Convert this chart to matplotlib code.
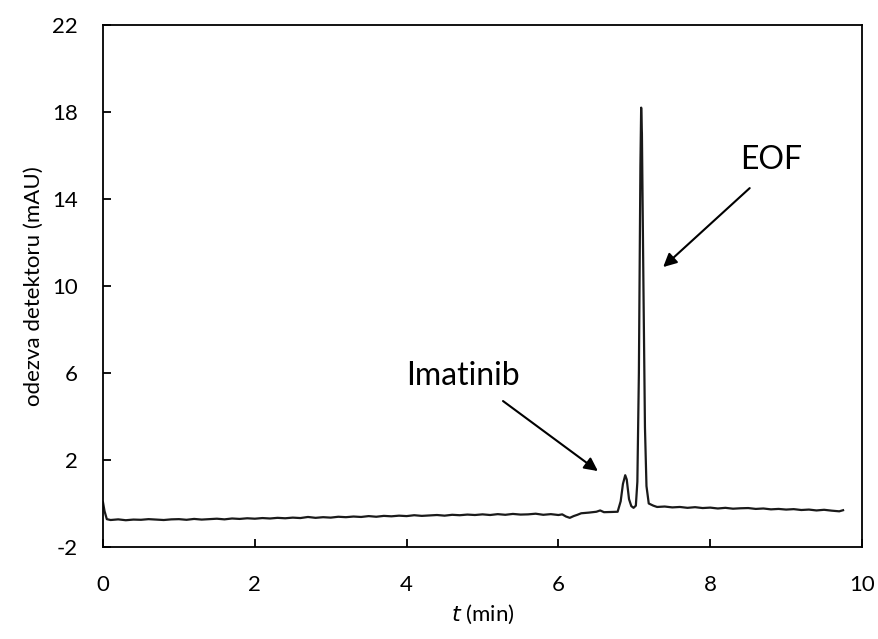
import matplotlib.pyplot as plt

plt.rcParams['font.family'] = ['Lato', 'DejaVu Sans']
plt.rcParams['axes.unicode_minus'] = False

# electropherogram (t in min, signal in mAU)
t = [0.00, 0.02, 0.05, 0.10, 0.20, 0.30, 0.40, 0.50, 0.60, 0.70, 0.80, 0.90,
     1.00, 1.10, 1.20, 1.30, 1.40, 1.50, 1.60, 1.70, 1.80, 1.90, 2.00, 2.10,
     2.20, 2.30, 2.40, 2.50, 2.60, 2.70, 2.80, 2.90, 3.00, 3.10, 3.20, 3.30,
     3.40, 3.50, 3.60, 3.70, 3.80, 3.90, 4.00, 4.10, 4.20, 4.30, 4.40, 4.50,
     4.60, 4.70, 4.80, 4.90, 5.00, 5.10, 5.20, 5.30, 5.40, 5.50, 5.60, 5.70,
     5.80, 5.90, 6.00, 6.05, 6.10, 6.15, 6.20, 6.25, 6.30, 6.40, 6.50, 6.55,
     6.60, 6.70, 6.78, 6.82, 6.85, 6.88, 6.90, 6.93, 6.96, 6.99, 7.02, 7.04,
     7.06, 7.08, 7.09, 7.10, 7.12, 7.14, 7.16, 7.19, 7.25, 7.30, 7.40, 7.50,
     7.60, 7.70, 7.80, 7.90, 8.00, 8.10, 8.20, 8.30, 8.40, 8.50, 8.60, 8.70,
     8.80, 8.90, 9.00, 9.10, 9.20, 9.30, 9.40, 9.50, 9.60, 9.70, 9.75]
signal = [0.05, -0.35, -0.72, -0.76, -0.73, -0.77, -0.74, -0.75, -0.72, -0.74, -0.76, -0.73,
          -0.72, -0.75, -0.71, -0.74, -0.72, -0.70, -0.73, -0.69, -0.71, -0.68, -0.70, -0.67,
          -0.69, -0.66, -0.68, -0.65, -0.67, -0.62, -0.66, -0.63, -0.65, -0.61, -0.63, -0.60,
          -0.62, -0.58, -0.61, -0.57, -0.59, -0.56, -0.58, -0.54, -0.57, -0.55, -0.53, -0.56,
          -0.52, -0.54, -0.51, -0.53, -0.50, -0.53, -0.49, -0.52, -0.48, -0.51, -0.50, -0.47,
          -0.52, -0.49, -0.53, -0.50, -0.60, -0.66, -0.58, -0.52, -0.45, -0.42, -0.38, -0.32,
          -0.40, -0.39, -0.38, 0.10, 0.90, 1.30, 1.10, 0.20, -0.12, -0.20, -0.10, 1.00,
          6.00, 15.50, 18.20, 17.00, 10.00, 3.50, 0.80, 0.00, -0.10, -0.16, -0.14, -0.18,
          -0.16, -0.20, -0.17, -0.21, -0.19, -0.23, -0.20, -0.24, -0.22, -0.21, -0.25, -0.23,
          -0.27, -0.25, -0.28, -0.26, -0.30, -0.28, -0.32, -0.29, -0.33, -0.36, -0.31]

xticks = [0, 2, 4, 6, 8, 10]
yticks = [-2, 2, 6, 10, 14, 18, 22]

fig = plt.figure(figsize=(8.79, 6.39), dpi=100)
ax = fig.add_axes([0.1172, 0.1440, 0.8635, 0.8169])
ax.plot(t, signal, color='#1a1a1a', lw=1.6)

ax.set_xlim(0, 10)
ax.set_ylim(-2, 22)
ax.set_xticks(xticks)
ax.set_yticks(yticks)
ax.tick_params(direction='in', length=6, width=1.3, labelsize=16, colors='black',
               top=False, right=False)
ax.tick_params(axis='x', pad=20)
ax.tick_params(axis='y', pad=18)
for s in ax.spines.values():
    s.set_linewidth(1.3)

ax.set_xlabel('$\\it{t}$ (min)', fontsize=16, labelpad=6)
ax.set_ylabel('odezva detektoru (mAU)', fontsize=16, labelpad=6)

arrow = dict(arrowstyle='-|>', color='black', lw=1.5, mutation_scale=20, shrinkA=0, shrinkB=0)
ax.annotate('', xy=(6.52, 1.49), xytext=(5.27, 4.71), arrowprops=arrow)
ax.annotate('', xy=(7.38, 10.87), xytext=(8.52, 14.5), arrowprops=arrow)
ax.text(4.74, 5.86, 'Imatinib', fontsize=23, ha='center', va='center')
ax.text(8.80, 15.79, 'EOF', fontsize=23, ha='center', va='center')

fig.savefig('out.png', dpi=100)
